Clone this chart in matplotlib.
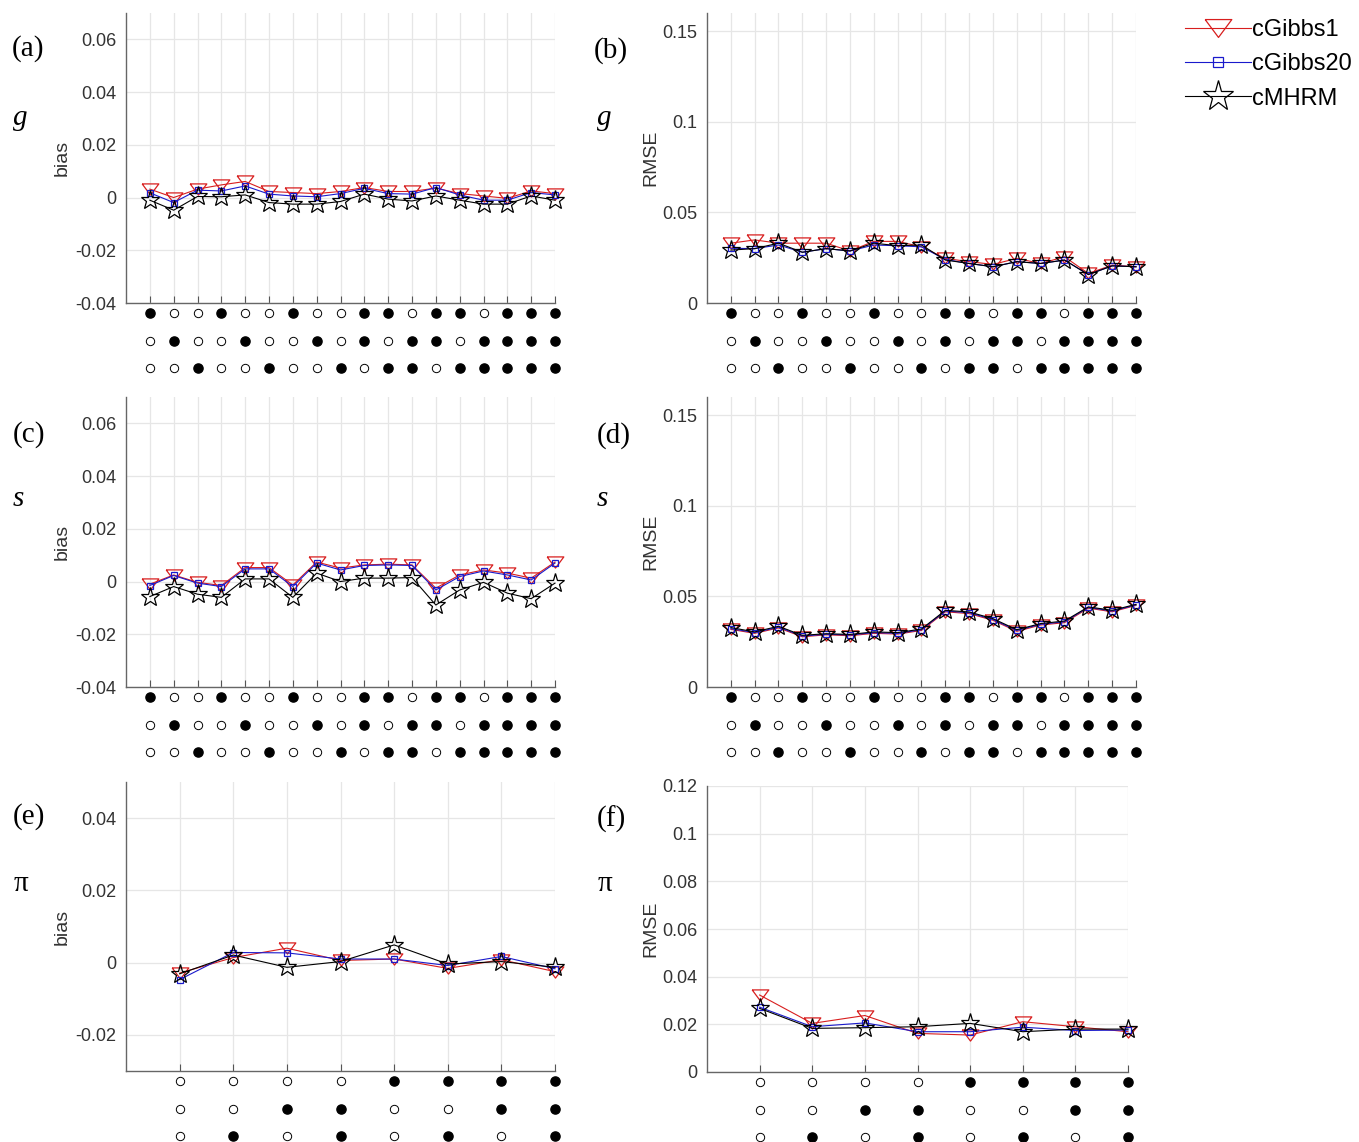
import numpy as np
import matplotlib.pyplot as plt
from matplotlib.transforms import blended_transform_factory, ScaledTranslation

plt.rcParams["font.family"] = ["Liberation Sans", "DejaVu Sans"]
plt.rcParams["axes.unicode_minus"] = False

# design patterns shown under each panel (1 = filled dot, 0 = open dot)
design_gs = [
    [1, 0, 0, 1, 0, 0, 1, 0, 0, 1, 1, 0, 1, 1, 0, 1, 1, 1],
    [0, 1, 0, 0, 1, 0, 0, 1, 0, 1, 0, 1, 1, 0, 1, 1, 1, 1],
    [0, 0, 1, 0, 0, 1, 0, 0, 1, 0, 1, 1, 0, 1, 1, 1, 1, 1],
]
design_pi = [
    [0, 0, 0, 0, 1, 1, 1, 1],
    [0, 0, 1, 1, 0, 0, 1, 1],
    [0, 1, 0, 1, 0, 1, 0, 1],
]

methods = ["cGibbs1", "cGibbs20", "cMHRM"]

# g: bias
g_bias_gibbs1 = [0.0032, 0.0000, 0.0032, 0.0048, 0.0061, 0.0023, 0.0019, 0.0015, 0.0023,
                 0.0038, 0.0023, 0.0023, 0.0036, 0.0015, 0.0006, -0.0003, 0.0025, 0.0015]
g_bias_gibbs20 = [0.0018, -0.0019, 0.0028, 0.0025, 0.0044, 0.0013, 0.0006, 0.0003, 0.0015,
                  0.0035, 0.0015, 0.0013, 0.0038, 0.0010, -0.0010, -0.0010, 0.0019, 0.0010]
g_bias_mhrm = [-0.0010, -0.0048, 0.0004, 0.0003, 0.0010, -0.0019, -0.0025, -0.0025, -0.0015,
               0.0013, -0.0006, -0.0013, 0.0006, -0.0010, -0.0025, -0.0025, 0.0006, -0.0010]

# g: RMSE
g_rmse_gibbs1 = [0.0330, 0.0348, 0.0330, 0.0330, 0.0330, 0.0287, 0.0340, 0.0340, 0.0310,
                 0.0246, 0.0228, 0.0213, 0.0246, 0.0218, 0.0255, 0.0163, 0.0209, 0.0200]
g_rmse_gibbs20 = [0.0302, 0.0300, 0.0320, 0.0280, 0.0300, 0.0287, 0.0320, 0.0316, 0.0310,
                  0.0240, 0.0218, 0.0200, 0.0228, 0.0218, 0.0237, 0.0157, 0.0205, 0.0200]
g_rmse_mhrm = [0.0292, 0.0300, 0.0330, 0.0280, 0.0300, 0.0287, 0.0330, 0.0316, 0.0320,
               0.0237, 0.0218, 0.0200, 0.0228, 0.0218, 0.0237, 0.0157, 0.0205, 0.0200]

# s: bias
s_bias_gibbs1 = [-0.0010, 0.0025, -0.0003, -0.0015, 0.0053, 0.0053, -0.0013, 0.0074, 0.0051,
                 0.0063, 0.0066, 0.0063, -0.0025, 0.0025, 0.0044, 0.0032, 0.0013, 0.0074]
s_bias_gibbs20 = [-0.0015, 0.0023, -0.0006, -0.0019, 0.0048, 0.0048, -0.0019, 0.0070, 0.0044,
                  0.0061, 0.0063, 0.0061, -0.0032, 0.0019, 0.0040, 0.0025, 0.0006, 0.0070]
s_bias_mhrm = [-0.0057, -0.0019, -0.0048, -0.0060, 0.0010, 0.0010, -0.0060, 0.0032, 0.0000,
               0.0013, 0.0013, 0.0015, -0.0089, -0.0032, -0.0003, -0.0044, -0.0065, -0.0006]

# s: RMSE
s_rmse_gibbs1 = [0.0318, 0.0296, 0.0326, 0.0277, 0.0288, 0.0283, 0.0296, 0.0292, 0.0312,
                 0.0415, 0.0405, 0.0368, 0.0307, 0.0342, 0.0355, 0.0435, 0.0415, 0.0450]
s_rmse_gibbs20 = [0.0322, 0.0300, 0.0330, 0.0281, 0.0291, 0.0287, 0.0300, 0.0296, 0.0316,
                  0.0419, 0.0410, 0.0372, 0.0312, 0.0346, 0.0360, 0.0439, 0.0419, 0.0453]
s_rmse_mhrm = [0.0328, 0.0304, 0.0335, 0.0285, 0.0294, 0.0290, 0.0304, 0.0300, 0.0320,
               0.0423, 0.0414, 0.0377, 0.0316, 0.0350, 0.0364, 0.0442, 0.0423, 0.0456]

# pi: bias
pi_bias_gibbs1 = [-0.0029, 0.0014, 0.0040, 0.0006, 0.0010, -0.0016, 0.0008, -0.0025]
pi_bias_gibbs20 = [-0.0047, 0.0028, 0.0027, 0.0010, 0.0010, -0.0008, 0.0017, -0.0017]
pi_bias_mhrm = [-0.0031, 0.0021, -0.0013, 0.0003, 0.0049, -0.0004, 0.0003, -0.0013]

# pi: RMSE
pi_rmse_gibbs1 = [0.0323, 0.0204, 0.0237, 0.0162, 0.0155, 0.0211, 0.0190, 0.0169]
pi_rmse_gibbs20 = [0.0272, 0.0190, 0.0206, 0.0169, 0.0169, 0.0188, 0.0174, 0.0176]
pi_rmse_mhrm = [0.0267, 0.0183, 0.0186, 0.0190, 0.0204, 0.0169, 0.0180, 0.0180]

W, H = 1359, 1142
fig = plt.figure(figsize=(W / 100, H / 100), dpi=100)

# downward triangle, wider than tall
tri_marker = [(-1, 0.67), (1, 0.67), (0, -0.67), (-1, 0.67)]
styles = [
    dict(color="#d81e1e", marker=tri_marker, ms=12, mfc="none", mew=0.9, lw=0.8),
    dict(color="#1a1acc", marker="s", ms=4.6, mfc="none", mew=0.9, lw=0.8),
    dict(color="black", marker="*", ms=14, mfc="none", mew=0.9, lw=0.8),
]


def px_axes(left, top, right, bottom):
    return fig.add_axes([left / W, 1 - bottom / H, (right - left) / W, (bottom - top) / H])


def draw_design(ax, rows):
    x = np.arange(1, len(rows[0]) + 1)
    for off, row in zip([10, 38, 65], rows):
        tr = blended_transform_factory(ax.transData, ax.transAxes) + \
            ScaledTranslation(0, -off / 100, fig.dpi_scale_trans)
        row = np.array(row)
        ax.plot(x[row == 1], np.zeros((row == 1).sum()), "o", ms=6.6, color="black",
                transform=tr, clip_on=False)
        ax.plot(x[row == 0], np.zeros((row == 0).sum()), "o", ms=6.0, mfc="white",
                mec="black", mew=0.7, transform=tr, clip_on=False)


def panel(ax, series, design, ylim, yticks, ylabel, label_x):
    x = np.arange(1, len(series[0]) + 1)
    lines = []
    for vals, st in zip(series, styles):
        ln, = ax.plot(x, vals, clip_on=False, **st)
        lines.append(ln)
    ax.set_xlim(0, len(x))
    ax.set_ylim(*ylim)
    ax.set_xticks(x)
    ax.set_xticklabels([])
    ax.set_yticks(yticks)
    ax.set_yticklabels([f"{round(v, 4):g}" for v in yticks])
    ax.grid(True, color="#e6e6e6", lw=0.9)
    ax.set_axisbelow(True)
    for side in ["top", "right"]:
        ax.spines[side].set_visible(False)
    for side in ["left", "bottom"]:
        ax.spines[side].set_color("#666666")
        ax.spines[side].set_linewidth(1.0)
    ax.tick_params(axis="x", direction="in", length=5, color="#555555")
    ax.tick_params(axis="y", direction="in", length=0, labelsize=13, colors="#333333", pad=7)
    ax.set_ylabel(ylabel, fontsize=14, color="#333333")
    ax.yaxis.set_label_coords(label_x, 0.5)
    draw_design(ax, design)
    return lines


bias_ticks = [-0.04, -0.02, 0, 0.02, 0.04, 0.06]
rmse_ticks = [0, 0.05, 0.1, 0.15]

ax_a = px_axes(126, 13, 555, 303)
lines = panel(ax_a, [g_bias_gibbs1, g_bias_gibbs20, g_bias_mhrm], design_gs,
              (-0.04, 0.07), bias_ticks, "bias", -0.129)
ax_b = px_axes(707, 13, 1136, 303)
panel(ax_b, [g_rmse_gibbs1, g_rmse_gibbs20, g_rmse_mhrm], design_gs,
      (0, 0.16), rmse_ticks, "RMSE", -0.110)
ax_c = px_axes(126, 397, 555, 687)
panel(ax_c, [s_bias_gibbs1, s_bias_gibbs20, s_bias_mhrm], design_gs,
      (-0.04, 0.07), bias_ticks, "bias", -0.129)
ax_d = px_axes(707, 397, 1136, 687)
panel(ax_d, [s_rmse_gibbs1, s_rmse_gibbs20, s_rmse_mhrm], design_gs,
      (0, 0.16), rmse_ticks, "RMSE", -0.110)
ax_e = px_axes(126, 782, 555, 1071)
panel(ax_e, [pi_bias_gibbs1, pi_bias_gibbs20, pi_bias_mhrm], design_pi,
      (-0.03, 0.05), [-0.02, 0, 0.02, 0.04], "bias", -0.129)
ax_f = px_axes(707, 786, 1128, 1072)
panel(ax_f, [pi_rmse_gibbs1, pi_rmse_gibbs20, pi_rmse_mhrm], design_pi,
      (0, 0.12), [0, 0.02, 0.04, 0.06, 0.08, 0.1, 0.12], "RMSE", -0.112)

# panel letters and parameter symbols
serif = ["Liberation Serif", "DejaVu Serif"]
for txt, x, y in [("(a)", 12, 56), ("(b)", 594, 58), ("(c)", 13, 442),
                  ("(d)", 597, 443), ("(e)", 13, 824), ("(f)", 597, 827)]:
    fig.text(x / W, 1 - y / H, txt, family=serif, fontsize=21, va="baseline")
for txt, x, y, style in [("g", 13, 125, "italic"), ("g", 597, 125, "italic"),
                         ("s", 13, 506, "italic"), ("s", 597, 506, "italic"),
                         ("π", 14, 891, "normal"), ("π", 598, 891, "normal")]:
    fig.text(x / W, 1 - y / H, txt, family=serif, fontsize=21, style=style, va="baseline")

fig.legend(lines, methods, loc="upper left", bbox_to_anchor=(1185 / W, 1 - 19 / H),
           frameon=False, fontsize=17, markerscale=1.6, handlelength=2.8,
           handletextpad=0.05, labelspacing=0.52, borderpad=0, borderaxespad=0)

fig.savefig("out.png", dpi=100)
